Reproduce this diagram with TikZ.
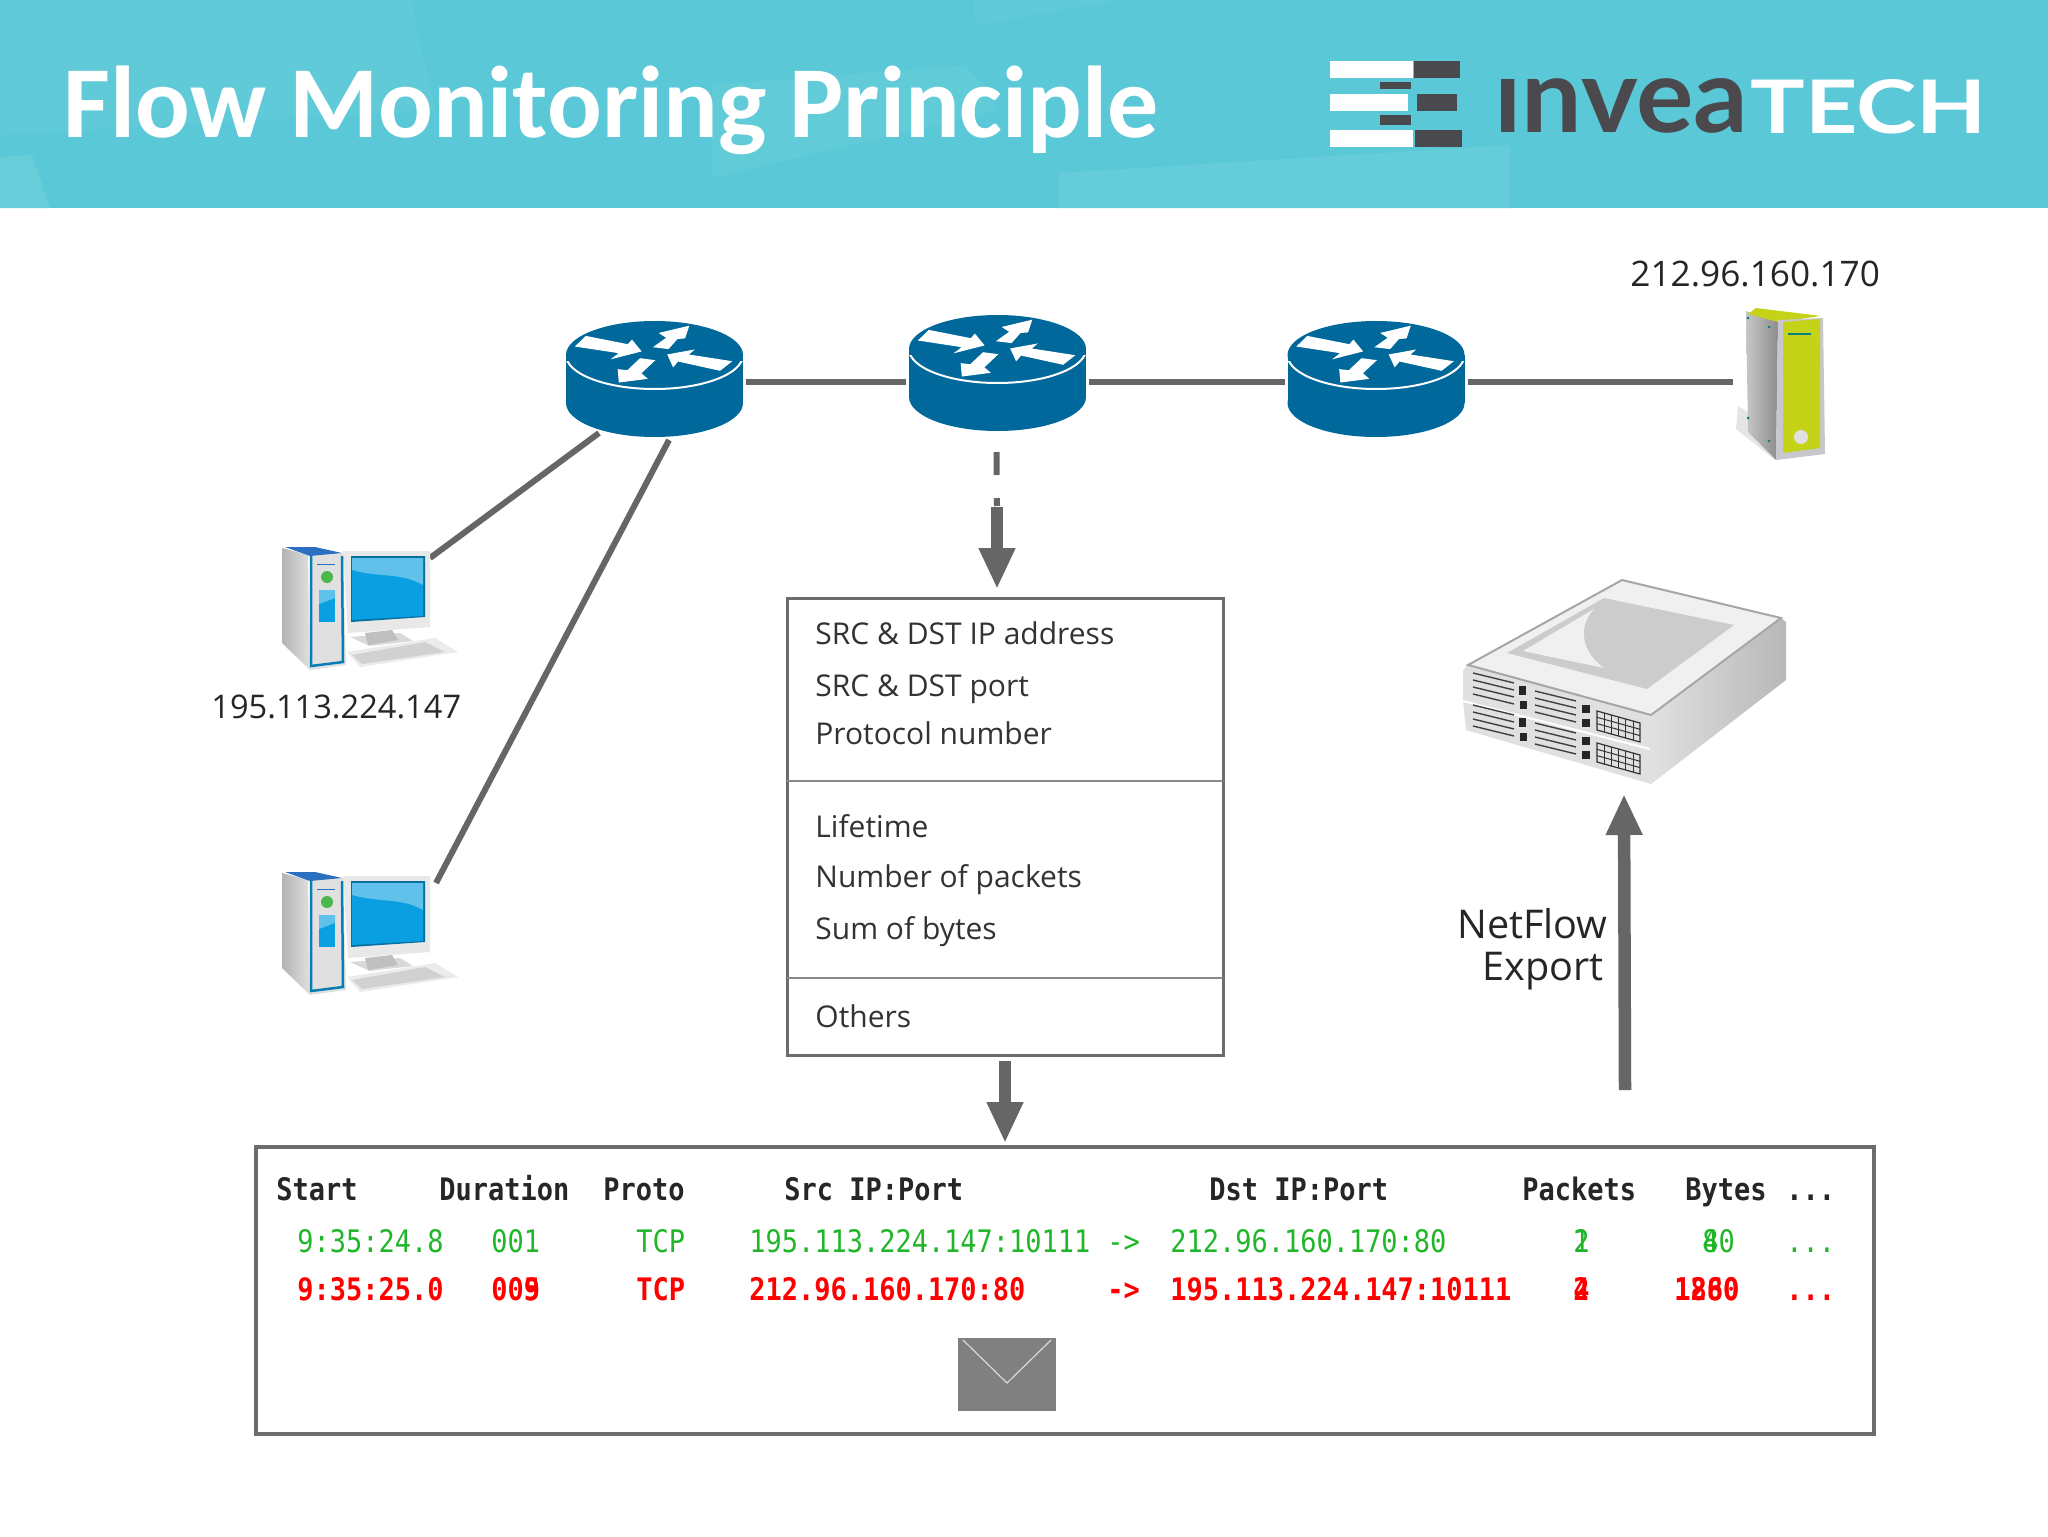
\documentclass[tikz,border=0pt]{standalone}
\usepackage{fontspec}
\usepackage{graphicx}
\usetikzlibrary{arrows.meta}
\newfontfamily\titlefont{Carlito}
\newfontfamily\labelfont{Open Sans}
\newfontfamily\logofont{Lato}
\newfontfamily\tablefont[FakeStretch=0.87]{DejaVu Sans Mono}
\newcommand{\rowdots}{...}
\definecolor{headcyan}{HTML}{5AC8D6}
\definecolor{routerblue}{HTML}{00689B}
\definecolor{linegray}{HTML}{666666}
\definecolor{boxgray}{HTML}{6C6C6C}
\definecolor{logodark}{HTML}{4A4A4E}
\definecolor{rowgreen}{HTML}{21B62A}
\definecolor{rowred}{HTML}{FF0000}
\definecolor{pcblue}{HTML}{0A9FE0}
\definecolor{pcedge}{HTML}{2A6FC0}
\definecolor{limegreen}{HTML}{C4D318}
\tikzset{
  routerbox/.style={minimum width=88.5pt,minimum height=58pt,inner sep=0pt,outer sep=1.5pt},
  pcbox/.style={minimum width=74.5pt,minimum height=62.5pt,inner sep=0pt,outer sep=0pt},
  link/.style={draw=linegray,line width=3pt},
  flowarrow/.style={draw=linegray,line width=6.25pt,-{Triangle[length=20.5pt,width=17pt]}},
  tapline/.style={draw=linegray,line width=3pt,dash pattern=on 11.5pt off 11.5pt on 4pt off 2pt},
  fieldtext/.style={anchor=base west,inner sep=0pt,text=black!80,font=\labelfont\fontsize{15pt}{17pt}\selectfont},
  addrtext/.style={anchor=base west,inner sep=0pt,text=black!85},
  tabletext/.style={anchor=base west,inner sep=0pt,font=\fontsize{15.5pt}{17pt}\selectfont\tablefont},
  arrowmark/.style={fill=white,draw=white,line width=.75pt},
  router/.pic={
    \fill[routerblue] (-88.5,0) rectangle (88.5,48);
    \fill[routerblue] (0,48) ellipse [x radius=88.5,y radius=34];
    \fill[routerblue] (0,0) ellipse [x radius=88.5,y radius=34];
    \begin{scope}
      \clip (-90,6) rectangle (90,40);
      \draw[white,line width=1pt] (0,0) ellipse [x radius=88.5,y radius=34];
    \end{scope}
    \path[arrowmark] (-68.5,-18.3) -- (-26.4,-10) -- (-22.6,-14.3) -- (-14.2,-4) -- (-40.6,2.7) -- (-34,-2.3) -- (-78,-9) -- cycle;
    \path[arrowmark] (0.4,-8.3) -- (13,-17.3) -- (6,-21.7) -- (33.7,-28.3) -- (30,-17.3) -- (22.6,-16.7) -- (13.8,-6.7) -- cycle;
    \path[arrowmark] (76,6.7) -- (32.7,0) -- (37.7,-4.3) -- (13.8,0) -- (18.8,11) -- (23.3,5.7) -- (65.4,15) -- cycle;
    \path[arrowmark] (-14.2,4) -- (-27,16) -- (-36,15) -- (-35,26.7) -- (-8.4,23.3) -- (-14.2,18.3) -- (-0.8,5.7) -- cycle;
  },
  pc/.pic={
    \fill[black!8] (347,652) -- (435,638) -- (458,652) -- (360,667) -- cycle;
    \fill[black!18] (352,655) -- (425,642) -- (445,652) -- (362,664) -- cycle;
    \fill[black!15] (350,637) -- (400,633) -- (413,641) -- (370,646) -- cycle;
    \fill[black!25] (365,633) -- (392,630) -- (398,640) -- (368,645) -- cycle;
    \fill[black!9] (343,551) -- (430,551) -- (430,627) -- (348,633) -- cycle;
    \fill[pcblue!70!black] (351,556) -- (425,556) -- (425,617) -- (351,622) -- cycle;
    \fill[pcblue] (352,558) -- (423,558) -- (423,616) -- (352,620) -- cycle;
    \fill[pcblue!65!white] (352,558) -- (423,558) -- (423,585) .. controls (400,572) and (380,578) .. (352,570) -- cycle;
    \shade[left color=black!30,right color=black!12] (282,548) -- (308,555) -- (310,670) -- (282,643) -- cycle;
    \fill[black!12] (310,553) -- (343,553) -- (346,665) -- (310,670) -- cycle;
    \fill[pcedge] (285,547) -- (315,547) -- (342,553) -- (310,556) -- cycle;
    \draw[pcblue!80!black,line width=1.25pt] (311,556) -- (311,666) -- (343,662) -- (342,556);
    \draw[pcedge,line width=.5pt] (317,564) -- (335,564);
    \fill[green!60!black!70!white] (327,577) circle (6);
    \fill[pcblue] (319,590) rectangle (335,622);
    \fill[pcblue!65!white] (319,590) -- (335,590) -- (335,598) -- (319,604) -- cycle;
  },
  serverbig/.pic={
    \fill[black!10] (1738,406) -- (1736,429) -- (1775,460) -- (1760,420) -- cycle;
    \shade[left color=black!22,right color=black!45] (1746,311) -- (1778,322) -- (1776,460) -- (1748,432) -- cycle;
    \fill[limegreen] (1756,308) -- (1821,316) -- (1778,322) -- (1748,314) -- cycle;
    \fill[blue!10!black!22] (1778,320) -- (1823,318) -- (1825,454) -- (1776,460) -- cycle;
    \fill[limegreen] (1783,322) -- (1820,319) -- (1820,448) -- (1783,453) -- cycle;
    \draw[teal,line width=.75pt] (1788,334) -- (1811,334);
    \fill[black!12] (1801,437) circle (7);
    \foreach \a/\b in {1748/318,1769/327,1748/418,1769/441}
      \fill[teal] (\a,\b) circle (1.5);
  },
  collectorbig/.pic={
    \shade[left color=black!12,right color=black!28] (1781,618) -- (1786,622) -- (1786,680) -- (1651,784) -- (1651,715) -- cycle;
    \fill[black!12] (1468,665) -- (1651,715) -- (1651,784) -- (1466,730) -- (1463,700) -- (1463,670) -- cycle;
    \draw[white,line width=1pt] (1463,701) -- (1650,749);
    \fill[black!6] (1622,580) -- (1781,618) -- (1651,715) -- (1468,665) -- cycle;
    \draw[black!35,line width=1pt] (1468,665) -- (1622,580) -- (1781,618) -- (1651,715) -- cycle;
    \fill[black!20] (1604,598) -- (1734,625) -- (1647,689) -- (1507,653) -- cycle;
    \fill[black!6] (1523,651) -- (1594,609) .. controls (1575,630) and (1585,655) .. (1604,668) -- cycle;
    \foreach \dy in {0,32} {
      \begin{scope}[shift={(0,\dy)}]
        \foreach \g in {0,7,14,21} {
          \draw[black!75,line width=.7pt] (1473,673+\g) -- (1514,683+\g);
          \draw[black!75,line width=.7pt] (1535,691+\g) -- (1576,701+\g);
        }
        \fill[black!85] (1519,686) rectangle (1526,695);
        \fill[black!85] (1520,701) rectangle (1527,709);
        \fill[black!85] (1582,705) rectangle (1590,713);
        \fill[black!85] (1582,719) rectangle (1590,727);
        \draw[black!80,line width=.6pt] (1597,711) -- (1640,723) -- (1640,742) -- (1597,730) -- cycle;
        \foreach \c in {1,2,3,4,5}
          \draw[black!80,line width=.5pt] (1597+\c*7.2,711+\c*2) -- (1597+\c*7.2,730+\c*2);
        \foreach \r in {1,2}
          \draw[black!80,line width=.5pt] (1597,711+\r*6.3) -- (1640,723+\r*6.3);
      \end{scope}
    }
  }
}
\begin{document}
\begin{tikzpicture}[x=.5pt,y=-.5pt]
  \useasboundingbox (0,0) rectangle (2048,1536);
  \fill[white] (0,0) rectangle (2048,1536);
  \fill[headcyan] (0,0) rectangle (2048,208);
  \fill[headcyan!96!white] (0,0) -- (411,0) -- (435,110) -- (0,135) -- cycle;
  \fill[headcyan!92!white] (0,157) -- (32,155) -- (50,208) -- (0,208) -- cycle;
  \fill[headcyan!95!white] (712,85) -- (966,65) -- (1000,110) -- (712,178) -- cycle;
  \fill[headcyan!93!white] (1058,173) -- (1510,145) -- (1510,208) -- (1058,208) -- cycle;
  \fill[headcyan!96!white] (973,0) -- (1123,0) -- (975,25) -- cycle;

  \node[anchor=base west,inner sep=0pt,white,font=\titlefont\bfseries\fontsize{51pt}{60pt}\selectfont] (title) at (63,137) {Flow Monitoring Principle};

  \foreach \a/\b/\c/\d/\col in {1330/61/1413/78/white,1414/61/1460/78/logodark,1380/82/1411/89/logodark,1330/94/1408/111/white,1417/94/1457/111/logodark,1380/115/1411/125/logodark,1330/130/1413/147/white,1415/130/1462/147/logodark}
    \fill[\col] (\a,\b) rectangle (\c,\d);
  \node[anchor=south west,inner sep=0pt,logodark] (logoa) at (1494,134) {\resizebox{127pt}{27pt}{\logofont\bfseries ınvea}};
  \node[anchor=south west,inner sep=0pt,white] (logob) at (1750,134) {\resizebox{118pt}{27pt}{\logofont\bfseries TECH}};

  \node[routerbox] (rone) at (654.5,379) {};
  \node[routerbox] (rtwo) at (997.5,373) {};
  \node[routerbox] (rthree) at (1376,379) {};
  \node[minimum width=44pt,minimum height=76pt,inner sep=0pt,outer sep=0pt] (srv) at (1781,382) {};
  \node[pcbox] (pca) at (355.5,608.5) {};
  \node[pcbox] (pcb) at (355.5,933.5) {};
  \node[minimum width=162pt,minimum height=102pt,inner sep=0pt,outer sep=0pt] (coll) at (1624,682) {};
  \node[draw=boxgray,line width=1.5pt,minimum width=218pt,minimum height=228.5pt,inner sep=0pt,outer sep=0pt] (fbox) at (1005,826.5) {};
  \node[draw=boxgray,line width=2pt,minimum width=809pt,minimum height=143.5pt,inner sep=0pt,outer sep=0pt] (tbl) at (1065,1290.5) {};
  \coordinate (tap) at (997,507);
  \coordinate (exportstart) at (1625,1090);

  \draw[link] (rone.east |- srv.west) -- (rtwo.west |- srv.west);
  \draw[link] (rtwo.east |- srv.west) -- (rthree.west |- srv.west);
  \draw[link] (rthree.east |- srv.west) -- ([xshift=-2pt]srv.west);
  \draw[link] ([xshift=-27.75pt,yshift=3.5pt]rone.south) -- ([yshift=-6pt]pca.north east);
  \draw[link] ([xshift=7.25pt]rone.south) -- ([xshift=3pt,yshift=-6pt]pcb.north east);
  \draw[tapline] ([xshift=-.5pt,yshift=-9pt]rtwo.south) -- (tap);
  \draw[flowarrow] (tap) -- ([yshift=4.5pt]tap |- fbox.north);
  \draw[flowarrow] ([yshift=-3pt]fbox.south) -- ([yshift=2pt]fbox.south |- tbl.north);
  \draw[flowarrow] (exportstart) -- ([yshift=-5pt]coll.south);

  \pic at (654.5,355) {router};
  \pic at (997.5,349) {router};
  \pic at (1376,355) {router};
  \pic at (0,0) {pc};
  \pic at (0,325) {pc};
  \pic at (0,0) {serverbig};
  \pic at (0,0) {collectorbig};

  \draw[boxgray!80!white,line width=1pt] (787,781) -- (1223,781);
  \draw[boxgray!80!white,line width=1pt] (787,978) -- (1223,978);
  \foreach \y/\t [count=\i] in {644/SRC \& DST IP address,696/SRC \& DST port,744/Protocol number,837/Lifetime,887/Number of packets,939/Sum of bytes,1027/Others}
    \node[fieldtext] (field\i) at (815,\y) {\t};

  \node[addrtext,font=\labelfont\fontsize{16.3pt}{19pt}\selectfont] (addra) at (211,718) {195.113.224.147};
  \node[addrtext,font=\labelfont\fontsize{17.6pt}{19pt}\selectfont] (addrb) at (1630,286) {212.96.160.170};
  \node[anchor=base east,inner sep=0pt,align=right,text=black!85,font=\labelfont\fontsize{19.8pt}{21pt}\selectfont] (nfa) at (1608,938) {NetFlow};
  \node[anchor=base east,inner sep=0pt,align=right,text=black!85,font=\labelfont\fontsize{19.8pt}{21pt}\selectfont] (nfb) at (1604,980) {Export};

  \foreach \x/\t [count=\i] in {276/Start,439/Duration,603/Proto,784/Src IP:Port,1209/Dst IP:Port,1522/Packets,1685/Bytes,1786/\rowdots}
    \node[tabletext,black!85] (head\i) at (\x,1200) {\bfseries\t};
  \foreach \x/\t [count=\i] in {297/9:35:24.8,491/001,636/TCP,749/195.113.224.147:10111,1107/->,1170/212.96.160.170:80,1573/\rlap{1}2,1702/\rlap{4}80,1786/\rowdots}
    \node[tabletext,rowgreen] (green\i) at (\x,1252) {\t};
  \foreach \x/\t [count=\i] in {297/9:35:25.0,491/00\rlap{9}5,636/TCP,749/212.96.160.170:80,1107/->,1170/195.113.224.147:10111,1573/\rlap{4}2,1674/\rlap{1280}1860,1786/\rowdots}
    \node[tabletext,rowred] (red\i) at (\x,1300) {\bfseries\t};

  \fill[black!50] (958,1338) rectangle (1056,1411);
  \draw[white!85!black,line width=.6pt] (963,1340) -- (1007,1383) -- (1051,1340);
\end{tikzpicture}
\end{document}
